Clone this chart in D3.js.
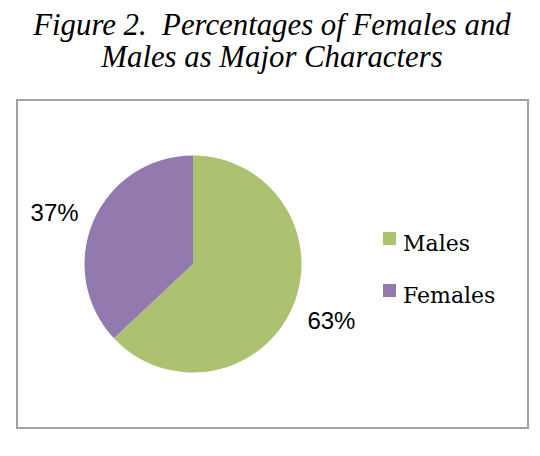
<!DOCTYPE html>
<html>
<head>
<meta charset="utf-8">
<script src="https://cdn.jsdelivr.net/npm/d3@7"></script>
<style>
  html, body { margin: 0; padding: 0; background: #fff; }
  .title { font-family: 'Liberation Serif', 'Times New Roman', Times, serif; font-style: italic; font-size: 30.8px; white-space: pre; }
</style>
</head>
<body>
<div id="chart"></div>
<script>
const categories = ['Males', 'Females'];
const values = [63, 37];
const colors = ['#adc270', '#927aaf'];
const titleLines = ['Figure 2.  Percentages of Females and', 'Males as Major Characters'];

const width = 540, height = 456;
const center = {x: 193, y: 264};
const radius = 108.5;

const svg = d3.select('#chart').append('svg')
    .attr('width', width)
    .attr('height', height);

// title
svg.append('g').selectAll('text')
    .data(titleLines)
    .enter().append('text')
    .attr('class', 'title')
    .attr('x', 272)
    .attr('y', (d, i) => 35 + i * 32)
    .attr('text-anchor', 'middle')
    .text(d => d);

// chart frame
svg.append('rect')
    .attr('x', 17)
    .attr('y', 100)
    .attr('width', 511)
    .attr('height', 328)
    .attr('fill', 'none')
    .attr('stroke', '#a0a0a0')
    .attr('stroke-width', 2);

const data = categories.map((c, i) => ({name: c, value: values[i], color: colors[i]}));

const pie = d3.pie().value(d => d.value).sort(null);
const arc = d3.arc().innerRadius(0).outerRadius(radius);
const arcs = pie(data);

const pieGroup = svg.append('g')
    .attr('transform', `translate(${center.x},${center.y})`);

pieGroup.selectAll('path')
    .data(arcs)
    .enter().append('path')
    .attr('d', arc)
    .attr('fill', d => d.data.color);

// percentage labels, placed outside the slices
const labelArc = d3.arc().innerRadius(radius * 1.33).outerRadius(radius * 1.33);
const labelNudge = [{dx: 6, dy: 1}, {dx: -6, dy: 8}];
pieGroup.selectAll('text.pct')
    .data(arcs)
    .enter().append('text')
    .attr('class', 'pct')
    .attr('x', (d, i) => labelArc.centroid(d)[0] + labelNudge[i].dx)
    .attr('y', (d, i) => labelArc.centroid(d)[1] + labelNudge[i].dy)
    .attr('text-anchor', 'middle')
    .attr('dominant-baseline', 'middle')
    .style('font-family', '"Liberation Sans", Arial, sans-serif')
    .style('font-size', '24px')
    .text(d => d.data.value + '%');

// legend
const legend = svg.append('g')
    .attr('transform', 'translate(383,232)');

const legendItems = legend.selectAll('g')
    .data(data)
    .enter().append('g')
    .attr('transform', (d, i) => `translate(0, ${i * 52})`);

legendItems.append('rect')
    .attr('width', 13)
    .attr('height', 13)
    .attr('fill', d => d.color);

legendItems.append('text')
    .attr('x', 20)
    .attr('y', 19)
    .style('font-family', '"DejaVu Serif", serif')
    .style('font-size', '22px')
    .text(d => d.name);
</script>
</body>
</html>
